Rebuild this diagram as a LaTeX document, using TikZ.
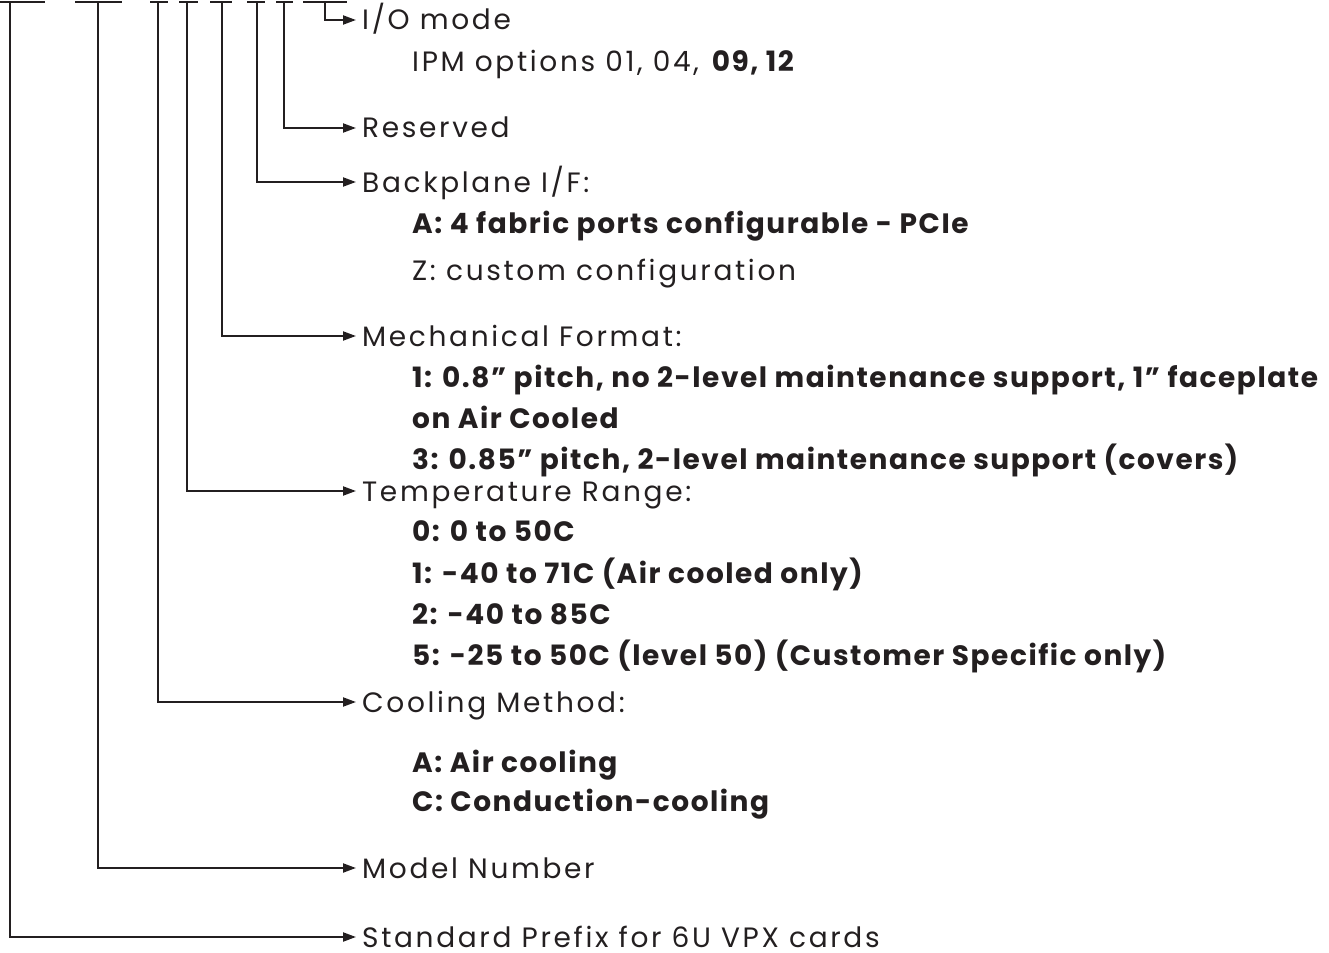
\documentclass[tikz,border=0pt]{standalone}
\usepackage{fontspec}
\setmainfont{Poppins}[LetterSpace=9.5,BoldFeatures={LetterSpace=5.5}]
\usetikzlibrary{arrows.meta}
\definecolor{ink}{RGB}{35,31,32}
\begin{document}
\begin{tikzpicture}[x=1pt,y=-1pt,
  ln/.style={line width=2pt,ink},
  arr/.style={ln,-{Triangle[length=13pt,width=9pt]},shorten >=6pt},
  lbl/.style={anchor=west,inner sep=0pt,text height=20pt,text depth=0pt,font=\fontsize{28pt}{32pt}\selectfont,text=ink},
  sub/.style={lbl,font=\fontsize{28pt}{32pt}\selectfont\bfseries}]
\useasboundingbox (0,0) rectangle (1329,952);
% top dashes
\foreach \a/\b in {0/45,75/122,150/168,179/198,210/232,247/265,276/293,303/347}
  \draw[ln] (\a,2) -- (\b,2);
\coordinate (d1) at (10,2);
\coordinate (d2) at (98,2);
\coordinate (d3) at (158,2);
\coordinate (d4) at (187,2);
\coordinate (d5) at (222,2);
\coordinate (d6) at (257,2);
\coordinate (d7) at (284,2);
\coordinate (d8) at (325,2);
% labels
\node[lbl] (io) at (362,20) {I/O mode};
\node[lbl] (ipm) at (412,62) {IPM options 01, 04, \textbf{09, 12}};
\node[lbl] (res) at (362,128) {Reserved};
\node[lbl] (bp) at (362,182) {Backplane I/F:};
\node[sub] (bpa) at (412,223) {A: 4 fabric ports configurable - PCIe};
\node[lbl] (bpz) at (412,270) {Z: custom configuration};
\node[lbl] (mf) at (362,336) {Mechanical Format:};
\node[sub] (mf1) at (412,377) {1: 0.8” pitch, no 2-level maintenance support, 1” faceplate};
\node[sub] (mf1b) at (412,418) {on Air Cooled};
\node[sub] (mf3) at (412,459) {3: 0.85” pitch, 2-level maintenance support (covers)};
\node[lbl] (tr) at (362,491) {Temperature Range:};
\node[sub] (tr0) at (412,531) {0: 0 to 50C};
\node[sub] (tr1) at (412,573) {1: -40 to 71C (Air cooled only)};
\node[sub] (tr2) at (412,614) {2: -40 to 85C};
\node[sub] (tr5) at (412,655) {5: -25 to 50C (level 50) (Customer Specific only)};
\node[lbl] (cm) at (362,702) {Cooling Method:};
\node[sub] (cma) at (412,762) {A: Air cooling};
\node[sub] (cmc) at (412,801) {C: Conduction-cooling};
\node[lbl] (mn) at (362,868) {Model Number};
\node[lbl] (sp) at (362,937) {Standard Prefix for 6U VPX cards};
% connectors
\draw[arr] (d8) |- (io.west);
\draw[arr] (d7) |- (res.west);
\draw[arr] (d6) |- (bp.west);
\draw[arr] (d5) |- (mf.west);
\draw[arr] (d4) |- (tr.west);
\draw[arr] (d3) |- (cm.west);
\draw[arr] (d2) |- (mn.west);
\draw[arr] (d1) |- (sp.west);
\end{tikzpicture}
\end{document}
